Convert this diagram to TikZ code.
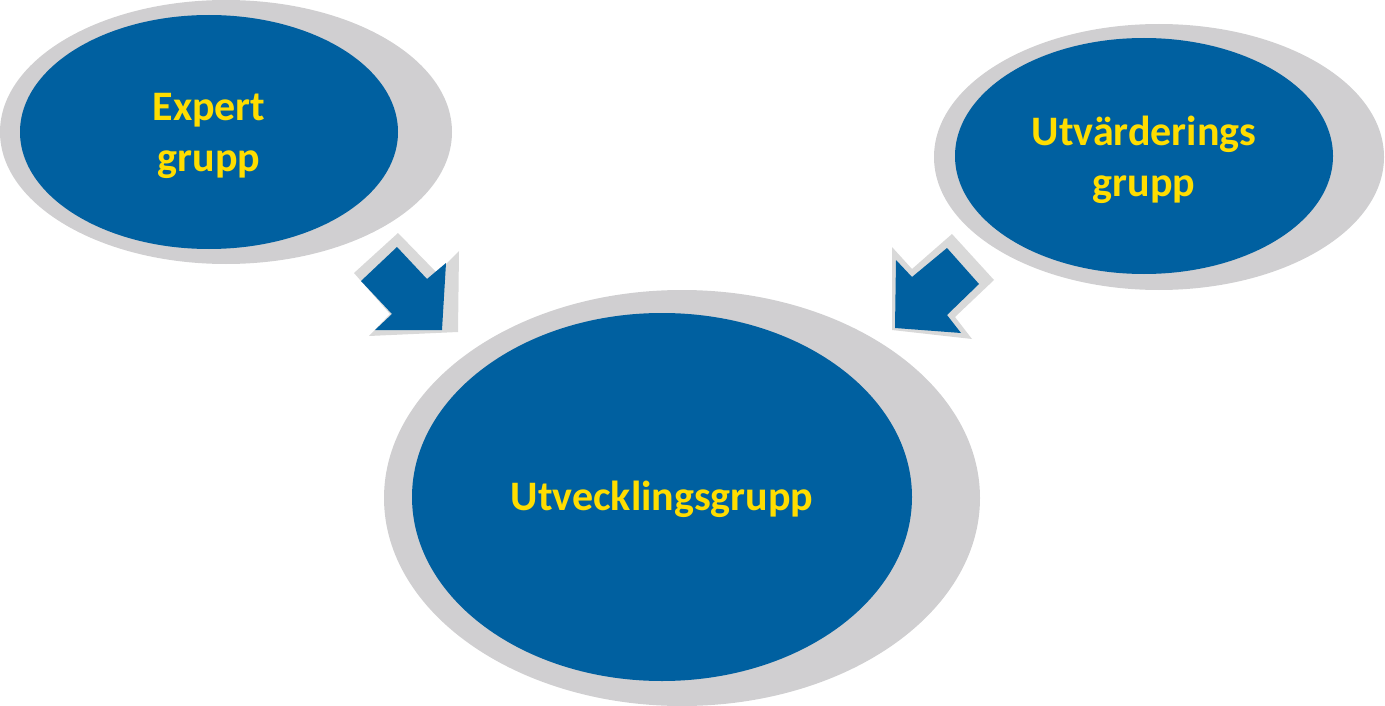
\documentclass[tikz,border=0pt]{standalone}
\usepackage{fontspec}
\setmainfont{Carlito}
\usetikzlibrary{shapes.geometric}
\definecolor{dblue}{RGB}{0,96,160}
\definecolor{ringgrey}{RGB}{208,207,209}
\definecolor{arrgrey}{RGB}{217,217,217}
\definecolor{tyellow}{RGB}{255,221,0}
\tikzset{
  bubble/.style={ellipse, fill=dblue, inner sep=0pt},
  bubbletext/.style={text=tyellow, align=center, inner sep=0pt,
    font=\fontsize{42}{51}\selectfont\bfseries},
  ring/.style={fill=ringgrey},
  shadowarrow/.style={fill=arrgrey},
  bluearrow/.style={fill=dblue}
}
\begin{document}
\begin{tikzpicture}[x=1pt,y=-1pt]
\useasboundingbox (0,0) rectangle (1385,706);
% grey rings
\fill[ring] (226,132) ellipse [x radius=226, y radius=132];
\fill[ring] (1159,157) ellipse [x radius=225, y radius=133];
\fill[ring] (682,498) ellipse [x radius=298, y radius=208];
% blue bubbles
\node[bubble, minimum width=378pt, minimum height=234pt] (expert) at (209,132) {};
\node[bubble, minimum width=378pt, minimum height=236pt] (utv) at (1144,156) {};
\node[bubble, minimum width=500pt, minimum height=368pt] (dev) at (662,497) {};
\node[bubbletext] (experttext) at ([yshift=-4pt]expert.center) {Expert\\grupp};
\node[bubbletext] (utvtext) at ([yshift=-4pt]utv.center) {Utvärderings\\grupp};
\node[bubbletext] (devtext) at ([yshift=-2pt]dev.center) {Utvecklingsgrupp};
% left arrow (down-right)
\fill[shadowarrow] (398,233) -- (354,273) -- (390,314) -- (369,336) -- (458,332) -- (459,251) -- (437,273) -- cycle;
\fill[bluearrow] (397,247) -- (361,281) -- (392,314) -- (375,330) -- (442,330) -- (446,263) -- (427,279) -- cycle;
% right arrow (down-left)
\fill[shadowarrow] (892,247) -- (912,269) -- (952,234) -- (994,280) -- (955,317) -- (972,339) -- (892,330) -- cycle;
\fill[bluearrow] (896,260) -- (912,277) -- (947,248) -- (979,284) -- (947,315) -- (961,333) -- (895,328) -- cycle;
\end{tikzpicture}
\end{document}
